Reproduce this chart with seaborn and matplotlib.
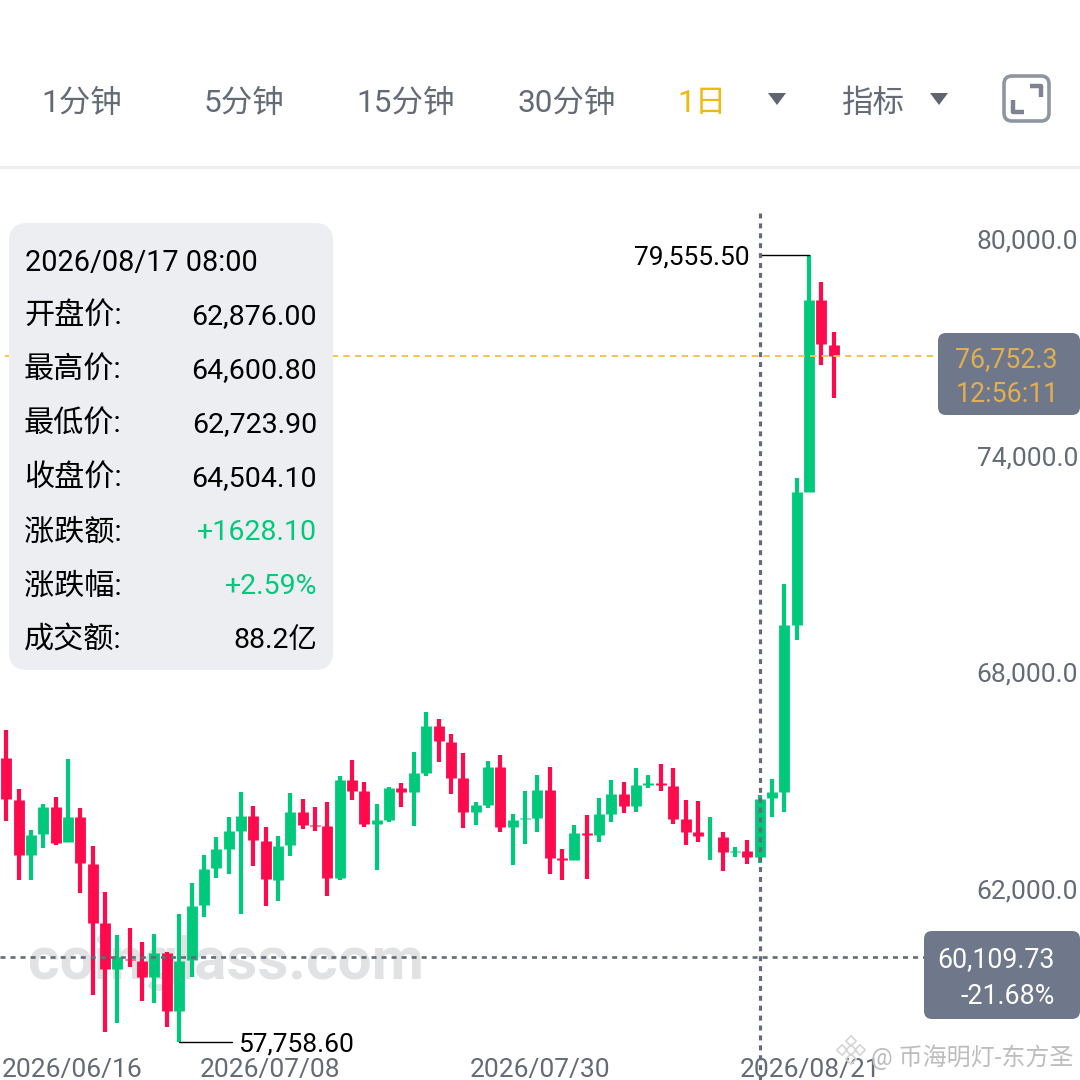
import numpy as np
import pandas as pd
import matplotlib
matplotlib.use("Agg")
import matplotlib.pyplot as plt
from matplotlib.patches import FancyBboxPatch, Polygon, Rectangle
from matplotlib.transforms import blended_transform_factory
import seaborn as sns

# daily candles, 2026/06/17 .. 2026/08/23
opens = [65636, 64465, 62934, 63524, 64263, 63294, 63986, 62693, 61051, 59785, 60062, 59999,
         59556, 60237, 58614, 60035, 61558, 62574, 63116, 63615, 64022, 63321, 62258, 63211,
         64124, 63781, 63745, 62297, 65019, 64723, 63800, 63911, 64806, 64695, 65221, 66514,
         66071, 65066, 64124, 64327, 65370, 63717, 63931, 63975, 64742, 62851, 62795, 63543,
         63504, 64086, 64631, 64307, 64889, 64927, 64861, 63939, 63571, 63460, 63449, 63025,
         63044, 62876.0, 64512, 64695, 69319, 73002, 78302, 77064]
closes = [64484, 62942, 63504, 64271, 63283, 63986, 62712, 61067, 59785, 60126, 60035, 59556,
          60220, 58614, 60007, 61530, 62554, 63108, 63615, 64022, 63349, 62269, 63191, 64133,
          63773, 63745, 62313, 65019, 64723, 63792, 63911, 64806, 64695, 65213, 66514, 66090,
          65082, 64124, 64327, 65370, 63726, 63903, 63958, 64742, 62867, 62812, 63543, 63504,
          64069, 64631, 64307, 64880, 64927, 64889, 63947, 63579, 63460, 63460, 63025, 63061,
          62895, 64504.1, 64687, 69311, 72985, 78302, 77083, 76752.3]
highs = [66403, 64770, 63634, 64354, 64556, 65592, 64235, 63200, 61926, 60727, 60912, 60533,
         60746, 60248, 61308, 62175, 62942, 63440, 63986, 64678, 64291, 63726, 63476, 64667,
         64493, 64263, 64401, 65130, 65581, 64963, 64346, 64833, 64936, 65786, 66910, 66699,
         66282, 65766, 64401, 65545, 65711, 64077, 64714, 65149, 65387, 63116, 63764, 64050,
         64512, 65010, 64963, 65343, 65149, 65470, 65359, 64465, 64437, 63986, 63579, 63164,
         63357, 64600.8, 65046, 70446, 73389, 79555.5, 78817, 77416]
lows = [63892, 62241, 62250, 63144, 63227, 63294, 61881, 59065, 58041, 58298, 59832, 58899,
        58852, 58171, 57758.6, 59572, 61234, 62313, 62424, 61308, 62646, 61530, 61677, 62914,
        63670, 63615, 61815, 62241, 64465, 63726, 62518, 63864, 64271, 63745, 65121, 65517,
        64639, 63681, 63773, 64252, 63571, 62673, 63247, 63587, 62424, 62241, 62795, 62286,
        63302, 63864, 64113, 64133, 64797, 64706, 63800, 63227, 63294, 62812, 62499, 62895,
        62693, 62723.9, 63986, 64141, 68887, 73002, 76510, 75588]

price_ticks = [80000, 74000, 68000, 62000]
date_ticks = [-1, 21.35, 43.2, 65.05]
date_labels = ["2026/06/16", "2026/07/08", "2026/07/30", "2026/08/21"]

info_labels = ["开盘价:", "最高价:", "最低价:", "收盘价:", "涨跌额:", "涨跌幅:", "成交额:"]
info_values = ["62,876.00", "64,600.80", "62,723.90", "64,504.10", "+1628.10", "+2.59%", "88.2亿"]

max_price = 79555.5
max_day = 65
min_price = 57758.6
min_day = 14
last_price = 76752.3
cross_day = 61
cross_price = 60109.73

GREEN = "#00C97C"
RED = "#FF0A4C"
GOLD = "#F0B90B"
GREY_TEXT = "#646B76"
BOX = "#6F778A"

sns.set_theme(style="white")
plt.rcParams["font.family"] = ["Roboto", "Noto Sans CJK SC"]

candles = pd.DataFrame({"day": range(len(opens)), "open": opens, "close": closes,
                        "high": highs, "low": lows})
candles["direction"] = np.where(candles["close"] >= candles["open"], "up", "down")
wicks = candles.melt(id_vars=["day", "direction"], value_vars=["high", "low"], value_name="price")
bodies = candles.melt(id_vars=["day", "direction"], value_vars=["open", "close"], value_name="price")

fig = plt.figure(figsize=(10.8, 10.8), dpi=100, facecolor="white")
ax = fig.add_axes([0, 0, 1, 1])

palette = {"up": GREEN, "down": RED}
for frame, width in [(wicks, 3.0), (bodies, 7.8)]:
    sns.lineplot(data=frame, x="day", y="price", hue="direction", units="day", estimator=None,
                 palette=palette, linewidth=width, solid_capstyle="butt", legend=False,
                 ax=ax, zorder=3)

# one picture pixel is 12.35 of 1 day across, 27.69 price points down
ax.set_xlim(-0.506, 86.94)
ax.set_ylim(56712, 86618)
ax.set(xlabel="", ylabel="")
sns.despine(ax=ax, left=True, bottom=True)
ax.set_facecolor("none")

ax.yaxis.tick_right()
ax.set_yticks(price_ticks)
ax.set_yticklabels([f"{p:,.1f}" for p in price_ticks])
ax.tick_params(axis="y", length=0, pad=-1.5, labelsize=19, labelcolor=GREY_TEXT)
for lab in ax.get_yticklabels():
    lab.set_ha("right")
ax.set_xticks([])

trans = blended_transform_factory(ax.transData, ax.transAxes)
for day, lab in zip(date_ticks, date_labels):
    if day < 0:
        ax.text(2 / 1080, 1 - 1070 / 1080, lab, transform=ax.transAxes, ha="left", va="center",
                fontsize=19, color=GREY_TEXT, zorder=6)
    else:
        ax.text(day, 1 - 1070 / 1080, lab, transform=trans, ha="center", va="center",
                fontsize=19, color=GREY_TEXT, zorder=6)

# watermark sits under the candles
ax.text(226 / 1080, 1 - 963 / 1080, "coinglass.com", transform=ax.transAxes, ha="center",
        va="center", fontsize=43.5, fontweight="bold", color="#E1E2E4", zorder=1)

# crosshair and last price line
ax.plot([cross_day, cross_day], [80720, 56712], color=GREY_TEXT, lw=2.3,
        dashes=(1.55, 1.55), zorder=5)
ax.plot([-0.506, 74.3], [cross_price, cross_price], color=GREY_TEXT, lw=1.9,
        dashes=(1.9, 1.9), zorder=5)
ax.plot([-0.1, 75.4], [last_price, last_price], color="#F3C453", lw=1.4,
        dashes=(3.3, 2.7), zorder=4)

# high / low callouts
ax.plot([cross_day, max_day], [max_price, max_price], color="black", lw=1, zorder=4)
ax.annotate(f"{max_price:,.2f}", (60.2, max_price), xytext=(0, -1.5), textcoords="offset points",
            ha="right", va="center", fontsize=19, color="black", zorder=6)
ax.plot([min_day, 18.3], [min_price, min_price], color="black", lw=1, zorder=4)
ax.annotate(f"{min_price:,.2f}", (18.8, min_price), xytext=(0, -1.5), textcoords="offset points",
            ha="left", va="center", fontsize=19, color="black", zorder=6)

# app chrome on a pixel overlay
ui = fig.add_axes([0, 0, 1, 1], zorder=10)
ui.set_xlim(0, 1080)
ui.set_ylim(1080, 0)
ui.axis("off")

for label, xc, col in [("1分钟", 82, GREY_TEXT), ("5分钟", 244, GREY_TEXT), ("15分钟", 406, GREY_TEXT),
                       ("30分钟", 567, GREY_TEXT), ("1日", 702, GOLD), ("指标", 873, GREY_TEXT)]:
    ui.text(xc, 103, label, ha="center", va="center", fontsize=22.7, color=col)
for xc in [777, 939]:
    ui.add_patch(Polygon([(xc - 9, 93), (xc + 9, 93), (xc, 105)], color="#5E6570", lw=0))
ui.add_patch(FancyBboxPatch((1004, 76), 45, 45, boxstyle="round,pad=0,rounding_size=8",
                            fc="white", ec="#8F96A2", lw=2.6))
ui.plot([1030, 1041, 1041], [86, 86, 97], color="#7D8490", lw=3.2, solid_capstyle="butt")
ui.plot([1013, 1013, 1024], [100, 112, 112], color="#7D8490", lw=3.2, solid_capstyle="butt")
ui.add_patch(Rectangle((0, 165.5), 1080, 3.5, color="#EDEEF1", lw=0))

ui.add_patch(FancyBboxPatch((9, 223), 324, 447, boxstyle="round,pad=0,rounding_size=18",
                            fc="#ECEEF2", ec="none"))
ui.text(25, 263, "2026/08/17 08:00", ha="left", va="center", fontsize=20.8, color="black")
for n, (lab, val) in enumerate(zip(info_labels, info_values)):
    yc = 317 + 54 * n
    ui.text(24, yc, lab, ha="left", va="center", fontsize=21.7, color="black")
    col = GREEN if val.startswith("+") else "black"
    ui.text(317, yc, val, ha="right", va="center", fontsize=20.5, color=col)

ui.add_patch(FancyBboxPatch((938, 333), 142, 82, boxstyle="round,pad=0,rounding_size=8",
                            fc=BOX, ec="none"))
ui.text(1058, 360, f"{last_price:,.1f}", ha="right", va="center", fontsize=19.3, color="#E2AE52")
ui.text(1059, 395, "12:56:11", ha="right", va="center", fontsize=19.3, color="#E2AE52")

ui.add_patch(FancyBboxPatch((924, 931), 156, 88, boxstyle="round,pad=0,rounding_size=8",
                            fc=BOX, ec="none"))
ui.text(1055, 960, f"{cross_price:,.2f}", ha="right", va="center", fontsize=19.3, color="white")
ui.text(1055, 996, "-21.68%", ha="right", va="center", fontsize=19.3, color="white")

# repost watermark, bottom right
ui.scatter([851, 842, 860, 851, 851], [1041, 1050, 1050, 1059, 1050], marker="D", s=28,
           facecolor="none", edgecolor="#D5D5D5", linewidth=1.2)
ui.text(871, 1057, "@ 币海明灯-东方圣", ha="left", va="center", fontsize=17.3, color="#BDBDBD")

fig.savefig("out.png", dpi=100)
